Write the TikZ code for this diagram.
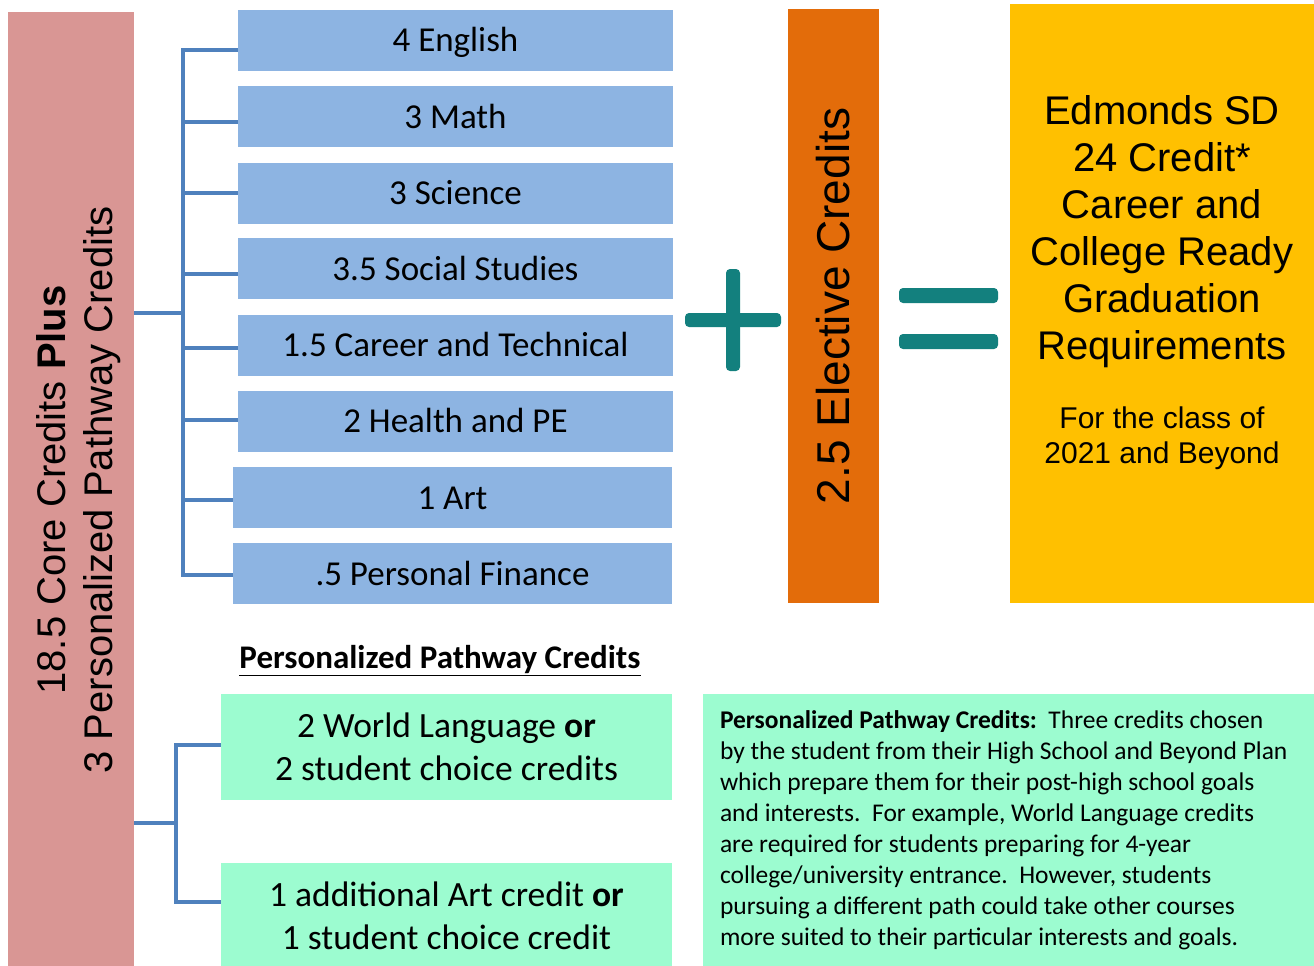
\documentclass[tikz,border=0pt]{standalone}
\usepackage{fontspec}
\setmainfont{Carlito}
\newfontfamily\arialfont{Liberation Sans}
\usetikzlibrary{positioning}
\definecolor{corepink}{HTML}{D99694}
\definecolor{subjblue}{HTML}{8DB4E2}
\definecolor{linkblue}{HTML}{4F81BD}
\definecolor{pathgreen}{HTML}{9CFCD0}
\definecolor{elecorange}{HTML}{E36C0A}
\definecolor{gradyellow}{HTML}{FFC000}
\definecolor{signteal}{HTML}{13807E}
\tikzset{%
  subjbox/.style={fill=subjblue, minimum width=435, minimum height=61, inner sep=0pt,
    text height=23pt, text depth=0pt, font=\fontsize{35}{42}\selectfont},
  pathbox/.style={fill=pathgreen, minimum width=451, minimum height=106, inner sep=0pt,
    align=center, font=\fontsize{35.5}{43}\selectfont},
  bracket/.style={draw=linkblue, line width=4pt},
  signbar/.style={fill=signteal, rounded corners=4pt}
}

\begin{document}
\begin{tikzpicture}[x=1pt,y=-1pt]
\useasboundingbox[fill=white] (0,0) rectangle (1314,966);
% left bar
\node[fill=corepink, minimum width=126, minimum height=954, inner sep=0pt] (core) at (71,489) {};
\node[rotate=90, align=center, font=\arialfont\fontsize{40}{47}\selectfont] (coretxt) at (79,490)
  {18.5 Core Credits \textbf{Plus}\\3 Personalized Pathway Credits};
% core subjects
\node[subjbox] (eng) at (455.5,40.5) {4 English};
\node[subjbox] (math) at (455.5,116.5) {3 Math};
\node[subjbox] (sci) at (455.5,193) {3 Science};
\node[subjbox] (soc) at (455.5,268.5) {3.5 Social Studies};
\node[subjbox] (cte) at (455.5,345) {1.5 Career and Technical};
\node[subjbox] (hpe) at (455.5,421) {2 Health and PE};
\node[subjbox, minimum width=439] (art) at (452.5,497.5) {1 Art};
\node[subjbox, minimum width=439] (pfin) at (452.5,573.5) {.5 Personal Finance};
% upper bracket
\coordinate (spine) at (183,0);
\coordinate (hub) at (183,313);
\foreach \b/\dy in {eng/-10,math/-5,sci/0,soc/-5,cte/-3,hpe/1,art/-2,pfin/-1}{
  \path ([yshift=\dy pt]\b.west) coordinate (tk-\b);
  \draw[bracket] (tk-\b) -- (spine |- tk-\b);
}
\draw[bracket] (tk-eng) -- (spine |- tk-eng) -- (spine |- tk-pfin) -- (tk-pfin);
\draw[bracket] (core.east |- hub) -- (hub);
% pathway credits
\node[font=\bfseries\fontsize{33}{38}\selectfont] (pphead) at (440,661) {\underline{Personalized Pathway Credits}};
\node[pathbox] (wl) at (446.5,747) {2 World Language \textbf{or}\\2 student choice credits};
\node[pathbox] (artc) at (446.5,916) {1 additional Art credit \textbf{or}\\1 student choice credit};
% lower bracket
\coordinate (spine2) at (176,0);
\coordinate (hub2) at (176,823);
\path ([yshift=2pt]wl.west) coordinate (tk-wl);
\path ([yshift=14pt]artc.west) coordinate (tk-artc);
\draw[bracket] (tk-wl) -- (spine2 |- tk-wl) -- (spine2 |- tk-artc) -- (tk-artc);
\draw[bracket] (core.east |- hub2) -- (hub2);
% plus
\fill[signbar] (685,313) rectangle (781,327);
\fill[signbar] (726,269) rectangle (740,371);
% electives
\node[fill=elecorange, rotate=90, minimum width=594, minimum height=91, inner sep=0pt,
  font=\arialfont\fontsize{46}{52}\selectfont] (elec) at (833.5,306) {2.5 Elective Credits};
% equals
\fill[signbar] (899,288) rectangle (998,303);
\fill[signbar] (899,334) rectangle (998,349);
% graduation
\node[fill=gradyellow, minimum width=304, minimum height=599, inner sep=0pt] (grad) at (1162,303.5) {};
\node[align=center, font=\arialfont\fontsize{40}{47}\selectfont] (gradtitle) at (1162,232)
  {Edmonds SD\\24 Credit*\\Career and\\College Ready\\Graduation\\Requirements};
\node[align=center, font=\arialfont\fontsize{30}{35}\selectfont] (gradclass) at (1162,438)
  {For the class of\\2021 and Beyond};
% note
\node[fill=pathgreen, minimum width=611, minimum height=272, inner sep=0pt] (note) at (1008.5,830) {};
\node[anchor=west, align=left, inner sep=0pt, font=\fontsize{25.5}{31}\selectfont] (notetxt)
  at ([xshift=17pt,yshift=0pt]note.west)
  {\textbf{Personalized Pathway Credits:}\ \ Three credits chosen\\
   by the student from their High School and Beyond Plan\\
   which prepare them for their post-high school goals\\
   and interests.\ \ For example, World Language credits\\
   are required for students preparing for 4-year\\
   college/university entrance.\ \ However, students\\
   pursuing a different path could take other courses\\
   more suited to their particular interests and goals.};
\end{tikzpicture}
\end{document}
